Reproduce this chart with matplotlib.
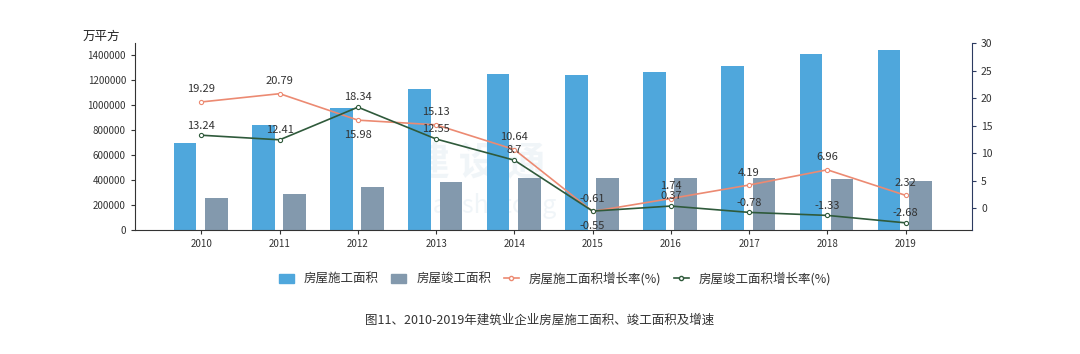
import matplotlib
matplotlib.use('Agg')
import matplotlib.pyplot as plt
import numpy as np
from matplotlib.lines import Line2D
from matplotlib.patches import Patch
from matplotlib.ticker import FuncFormatter

plt.rcParams['font.family'] = ['Noto Sans CJK SC', 'DejaVu Sans']

years = ['2010', '2011', '2012', '2013', '2014', '2015', '2016', '2017', '2018', '2019']
# 万平方米
construct = [698000, 845000, 981000, 1128000, 1248000, 1240000, 1264000, 1317000, 1408000, 1440000]
complete = [258000, 293000, 347000, 387000, 421000, 421000, 421000, 419000, 411000, 397000]
# growth rates (%)
construct_rate = [19.29, 20.79, 15.98, 15.13, 10.64, -0.61, 1.74, 4.19, 6.96, 2.32]
complete_rate = [13.24, 12.41, 18.34, 12.55, 8.7, -0.55, 0.37, -0.78, -1.33, -2.68]

c_blue = '#4fa7dc'
c_gray = '#8399ad'
c_orange = '#ec8a72'
c_green = '#2f5a3b'

fig = plt.figure(figsize=(10.8, 3.54), dpi=100)
ax = fig.add_axes([0.125, 0.35, 0.775, 0.5285])
x = np.arange(len(years))
ax.bar(x - 0.21, construct, width=0.29, color=c_blue, zorder=2)
ax.bar(x + 0.19, complete, width=0.29, color=c_gray, zorder=2)
ax.set_xlim(-0.85, 9.85)
ax.set_ylim(0, 1500000)
ax.set_yticks(range(0, 1400001, 200000))
ax.yaxis.set_major_formatter(FuncFormatter(lambda v, p: '{:d}'.format(int(v))))
ax.set_xticks(x)
ax.set_xticklabels(years)
ax.tick_params(labelsize=7, colors='#333333', length=3)
for s in ['top', 'right']:
    ax.spines[s].set_visible(False)
ax.spines['left'].set_color('#333333')
ax.spines['bottom'].set_color('#333333')
ax.text(-0.04, 1.0, '万平方', transform=ax.transAxes, fontsize=9, ha='center', va='bottom', color='#222222')

# watermark
ax.text(0.33, 0.36, '建 设 通', transform=ax.transAxes, fontsize=28, color='#e3ecf3', alpha=0.5,
        ha='left', va='center', zorder=1, fontweight='bold')
ax.text(0.34, 0.13, 'jianshetong', transform=ax.transAxes, fontsize=18, color='#e3ecf3', alpha=0.5,
        ha='left', va='center', zorder=1)

ax2 = ax.twinx()
ax2.plot(x, construct_rate, color=c_orange, lw=1.2, marker='o', ms=3, mfc='white', mew=0.8, zorder=3)
ax2.plot(x, complete_rate, color=c_green, lw=1.2, marker='o', ms=3, mfc='white', mew=0.8, zorder=3)
ax2.set_ylim(-4, 30)
ax2.set_yticks(range(0, 31, 5))
ax2.tick_params(labelsize=7.5, colors='#333333', length=3)
for s in ['top', 'left', 'bottom']:
    ax2.spines[s].set_visible(False)
ax2.spines['right'].set_color('#2c3a60')
ax2.tick_params(axis='y', color='#2c3a60')

below_orange = [2]
below_green = [5]
for i, v in enumerate(construct_rate):
    dy = -11 if i in below_orange else 9
    ax2.annotate('{}'.format(v), (x[i], v), xytext=(0, dy), textcoords='offset points',
                 ha='center', va='center', fontsize=8, color='#333333')
for i, v in enumerate(complete_rate):
    dy = -11 if i in below_green else 7
    ax2.annotate('{}'.format(v), (x[i], v), xytext=(0, dy), textcoords='offset points',
                 ha='center', va='center', fontsize=8, color='#333333')

handles = [Patch(color=c_blue), Patch(color=c_gray),
           Line2D([], [], color=c_orange, marker='o', ms=3, mfc='white', lw=1.2),
           Line2D([], [], color=c_green, marker='o', ms=3, mfc='white', lw=1.2)]
labels = ['房屋施工面积', '房屋竣工面积', '房屋施工面积增长率(%)', '房屋竣工面积增长率(%)']
fig.legend(handles, labels, loc='center', bbox_to_anchor=(0.514, 0.212), ncol=4, frameon=False,
           fontsize=9, handlelength=1.2, handleheight=0.8, columnspacing=1.0, handletextpad=0.8,
           labelcolor='#333333')

fig.text(0.5, 0.095, '图11、2010-2019年建筑业企业房屋施工面积、竣工面积及增速', ha='center', va='center',
         fontsize=9, color='#333333')

fig.savefig('out.png', dpi=100)
